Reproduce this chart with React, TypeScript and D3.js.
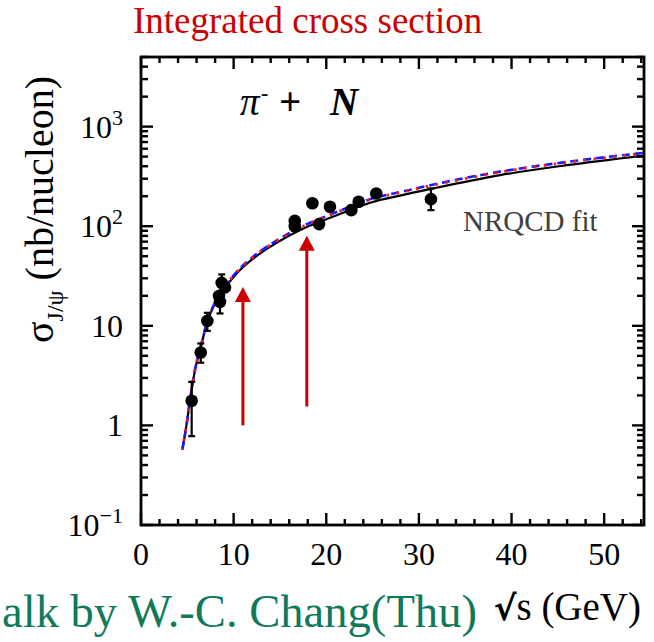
import React from 'react';
import * as d3 from 'd3';

// Measured J/psi production cross sections (pi- + N), sqrt(s) in GeV, sigma in nb/nucleon
const dataSqrtS = [5.47, 6.45, 7.16, 8.42, 8.53, 8.71, 9.07, 16.6, 16.6, 18.5, 19.22, 20.4, 22.7, 23.5, 25.4, 31.3];
const dataSigma = [1.77, 5.4, 11.2, 19.9, 17.4, 27, 24.3, 113, 100, 170, 105, 157, 145, 176, 213, 187];
const dataErrLo = [0.78, 4.26, 8.9, 19.9, 13.3, 22.5, 24.3, 113, 90, 170, 105, 157, 145, 176, 213, 145];
const dataErrHi = [2.74, 6.65, 13.5, 19.9, 17.4, 32.8, 24.3, 113, 100, 170, 105, 157, 145, 176, 213, 239];

// NRQCD fit curves
const curveSqrtS = [4.46, 4.94, 5.29, 5.83, 6.55, 7.1, 7.81, 8.88, 10.33, 12.13, 13.93, 15.73, 17.53, 19.33, 21.13, 22.93, 24.73, 27.97, 31.57, 38.77, 45.97, 54.3];
const fitSolid = [0.57, 1.05, 1.79, 3.59, 6.65, 10.6, 15.5, 22.8, 33.6, 47.5, 62, 78, 95, 111, 129, 150, 172, 203, 240, 326, 410, 512];
const fitDashed = [0.57, 1.05, 1.8, 3.62, 6.72, 10.75, 15.8, 23.4, 34.8, 49.6, 65.2, 82.5, 101, 119, 139, 162, 187, 220, 262, 353, 442, 545];
const fitDotted = [0.57, 1.05, 1.8, 3.6, 6.7, 10.7, 15.7, 23.3, 34.6, 49.3, 64.8, 82, 100, 118, 138, 161, 185, 218, 259, 349, 437, 540];

// Red arrows: position, tail value, tip value
const arrowSqrtS = [11.0, 17.9];
const arrowFrom = [1.0, 1.55];
const arrowTo = [24.5, 80];

// Axis labels
const xTickValues = [0, 10, 20, 30, 40, 50];
const yTickValues = [0.1, 1, 10, 100, 1000];
const yTickBase = ['10', '1', '10', '10', '10'];
const yTickSup = ['\u22121', '', '', '2', '3'];

const W = 654;
const H = 642;
const left = 141;
const right = 644;
const top = 57;
const bottom = 525;

const serif = '"Liberation Serif", "Times New Roman", serif';

export default function App() {
  const x = d3.scaleLinear().domain([0, 54.3]).range([left, right]);
  const y = d3.scaleLog().domain([0.1, 5000]).range([bottom, top]);

  const line = (vals: number[]) =>
    d3
      .line<number>()
      .x((_, i) => x(curveSqrtS[i]))
      .y((v) => y(v))
      .curve(d3.curveMonotoneX)(vals) || '';

  const yMinor = y.ticks();
  const xMinor = d3.range(0, 55, 2);

  return (
    <svg
      width={W}
      height={H}
      style={{ position: 'absolute', left: 0, top: 0, background: '#fff' }}
      fontFamily={serif}
    >
      <defs>
        <clipPath id="plot">
          <rect x={left} y={top} width={right - left} height={bottom - top} />
        </clipPath>
      </defs>

      {/* title */}
      <text x={133} y={33} fontSize={37} fill="#cc0000">
        Integrated cross section
      </text>

      {/* ticks on all four sides, pointing inward */}
      <g stroke="#000" strokeWidth={2.4}>
        {yMinor.map((v, i) => {
          const major = Math.abs(Math.log10(v) - Math.round(Math.log10(v))) < 1e-6;
          const len = major ? 12 : 7;
          const yy = y(v);
          return (
            <g key={'y' + i}>
              <line x1={left} x2={left + len} y1={yy} y2={yy} />
              <line x1={right} x2={right - len} y1={yy} y2={yy} />
            </g>
          );
        })}
        {xMinor.map((v, i) => {
          const major = v % 10 === 0;
          const len = major ? 12 : 6;
          const xx = x(v);
          return (
            <g key={'x' + i}>
              <line x1={xx} x2={xx} y1={bottom} y2={bottom - len} />
              <line x1={xx} x2={xx} y1={top} y2={top + len} />
            </g>
          );
        })}
      </g>

      {/* fit curves */}
      <g clipPath="url(#plot)" fill="none">
        <path d={line(fitSolid)} stroke="#000" strokeWidth={2.2} />
        <path d={line(fitDashed)} stroke="#1a1aff" strokeWidth={2.6} strokeDasharray="8 5" />
        <path d={line(fitDotted)} stroke="#ff1a1a" strokeWidth={2.8} strokeDasharray="2.5 7.5" strokeDashoffset={-9} />
      </g>

      {/* arrows */}
      {arrowSqrtS.map((s, i) => {
        const xx = x(s);
        const y0 = y(arrowFrom[i]);
        const y1 = y(arrowTo[i]);
        return (
          <g key={'a' + i} fill="#cc0000" stroke="#cc0000">
            <line x1={xx} x2={xx} y1={y0} y2={y1 + 12} strokeWidth={3} />
            <polygon points={`${xx},${y1} ${xx - 8},${y1 + 15} ${xx + 8},${y1 + 15}`} stroke="none" />
          </g>
        );
      })}

      {/* data points */}
      <g>
        {dataSqrtS.map((s, i) => {
          const xx = x(s);
          const lo = y(dataErrLo[i]);
          const hi = y(dataErrHi[i]);
          const hasBar = Math.abs(lo - hi) > 1;
          return (
            <g key={'p' + i}>
              {hasBar && (
                <g stroke="#000" strokeWidth={2.2}>
                  <line x1={xx} x2={xx} y1={lo} y2={hi} />
                  <line x1={xx - 3.5} x2={xx + 3.5} y1={lo} y2={lo} />
                  <line x1={xx - 3.5} x2={xx + 3.5} y1={hi} y2={hi} />
                </g>
              )}
              <circle cx={xx} cy={y(dataSigma[i])} r={6.3} fill="#000" />
            </g>
          );
        })}
      </g>

      {/* frame */}
      <rect x={left} y={top} width={right - left} height={bottom - top} fill="none" stroke="#000" strokeWidth={2.8} />

      {/* x tick labels */}
      <g fontSize={32} textAnchor="middle" fill="#000">
        {xTickValues.map((v) => (
          <text key={'xl' + v} x={x(v)} y={565}>
            {v}
          </text>
        ))}
      </g>

      {/* y tick labels */}
      <g fontSize={32} textAnchor="end" fill="#000">
        {yTickValues.map((v, i) => (
          <text key={'yl' + i} x={123} y={y(v) + 11}>
            {yTickBase[i]}
            {yTickSup[i] && (
              <tspan fontSize={22} dy={-13}>
                {yTickSup[i]}
              </tspan>
            )}
          </text>
        ))}
      </g>

      {/* y axis title */}
      <text transform="translate(53,343) rotate(-90)" fontSize={40} fill="#000">
        σ
        <tspan fontSize={24} dy={10}>
          J/ψ
        </tspan>
        <tspan dy={-10}> (nb/nucleon)</tspan>
      </text>

      {/* reaction label */}
      <g fontSize={39} fill="#000">
        <text x={240} y={115} fontStyle="italic">
          π
        </text>
        <text x={261} y={100} fontSize={22} fontWeight="bold">
          -
        </text>
        <text x={279} y={115} fontWeight="bold">
          +
        </text>
        <text x={330} y={115} fontWeight="bold" fontStyle="italic">
          N
        </text>
      </g>

      {/* fit label */}
      <text x={463} y={231} fontSize={29} fill="#404040">
        NRQCD fit
      </text>

      {/* x axis title */}
      <text x={641} y={620} fontSize={39} textAnchor="end" fill="#000">
        <tspan fontWeight="bold" fontFamily='"DejaVu Sans", sans-serif' fontSize={34}>√</tspan>s (GeV)
      </text>

      {/* footer */}
      <text x={2} y={627} fontSize={46.6} fill="#0f7a5a">
        alk by W.-C. Chang(Thu)
      </text>
    </svg>
  );
}
